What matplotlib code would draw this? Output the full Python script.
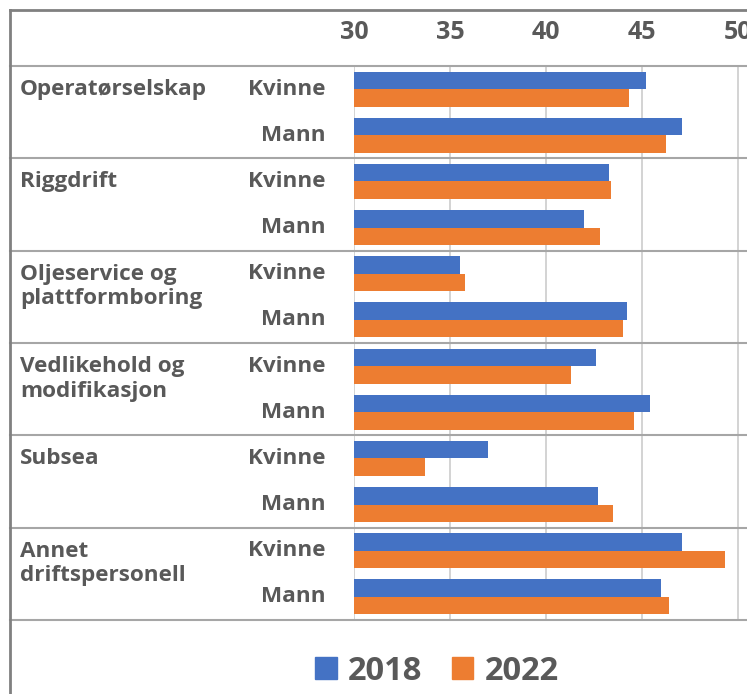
import matplotlib
matplotlib.use("Agg")
import matplotlib.pyplot as plt
from matplotlib.patches import Patch
from matplotlib.lines import Line2D
import matplotlib.transforms as mtransforms
import numpy as np

plt.rcParams['font.family'] = ['Open Sans', 'DejaVu Sans']

groups = ["Operatørselskap", "Riggdrift", "Oljeservice og\nplattformboring",
          "Vedlikehold og\nmodifikasjon", "Subsea", "Annet\ndriftspersonell"]
genders = ["Kvinne", "Mann"]
series_names = ["2018", "2022"]
vals_2018 = [45.2, 47.1, 43.3, 42.0, 35.5, 44.2, 42.6, 45.4, 37.0, 42.7, 47.1, 46.0]
vals_2022 = [44.3, 46.25, 43.4, 42.8, 35.8, 44.0, 41.3, 44.6, 33.7, 43.5, 49.3, 46.4]
xticks = [30, 35, 40, 45, 50]

c2018 = "#4472C4"
c2022 = "#ED7D31"
txt = "#595959"
FW = 'bold'

W, H = 747, 694
fig = plt.figure(figsize=(W / 100, H / 100), dpi=100)

ax_left_px, ax_top_px, ax_bot_px = 354, 66, 620
ax = fig.add_axes([ax_left_px / W, 1 - ax_bot_px / H, 1 - ax_left_px / W, (ax_bot_px - ax_top_px) / H])
px_per_unit = 19.2
ax.set_xlim(30, 30 + (W - ax_left_px) / px_per_unit)
n = len(vals_2018)
ax.set_ylim(n - 0.5, -0.5)

y = np.arange(n)
bh = 0.38
ax.barh(y - bh / 2, vals_2018, height=bh, color=c2018, zorder=3)
ax.barh(y + bh / 2, vals_2022, height=bh, color=c2022, zorder=3)

ax.set_xticks(xticks)
ax.xaxis.tick_top()
ax.tick_params(axis='x', length=0, pad=15, labelsize=18, labelcolor=txt)
for lab in ax.get_xticklabels():
    lab.set_fontweight(FW)
ax.set_yticks([])
ax.grid(axis='x', color="#D0D0D0", linewidth=1.3, zorder=0)
for s in ax.spines.values():
    s.set_visible(False)

bt = mtransforms.blended_transform_factory(fig.transFigure, ax.transData)

# gender labels
for i in range(n):
    ax.text(326 / W, i, genders[i % 2], transform=bt,
            ha='right', va='center', fontsize=16.2, fontweight=FW, color=txt)

# group labels
for g, name in enumerate(groups):
    yy = 2 * g
    if "\n" in name:
        yy = 2 * g + 0.28
    t = fig.text(20 / W, 0, name, transform=bt, ha='left', va='center', fontsize=16.2,
                 fontweight=FW, color=txt, linespacing=1.2)
    t.set_y(yy)

# separator lines
for k in range(len(groups) + 1):
    yy = 2 * k - 0.5
    fig.add_artist(Line2D([10 / W, 1], [yy, yy], transform=bt, color="#A6A6A6", linewidth=1.5))

# outer border
fig.add_artist(Line2D([10 / W, 10 / W], [0, 1 - 10 / H], transform=fig.transFigure, color="#808080", linewidth=2))
fig.add_artist(Line2D([10 / W, 1], [1 - 10 / H, 1 - 10 / H], transform=fig.transFigure, color="#808080", linewidth=2))

handles = [Patch(color=c2018), Patch(color=c2022)]
leg = fig.legend(handles, series_names, loc='center', bbox_to_anchor=(437 / W, 1 - 671 / H),
                 ncol=2, frameon=False, handlelength=0.65, handleheight=0.65, handletextpad=0.35,
                 columnspacing=0.9, prop={'size': 23.5, 'weight': FW})
for t in leg.get_texts():
    t.set_color(txt)

fig.savefig("out.png", dpi=100)
